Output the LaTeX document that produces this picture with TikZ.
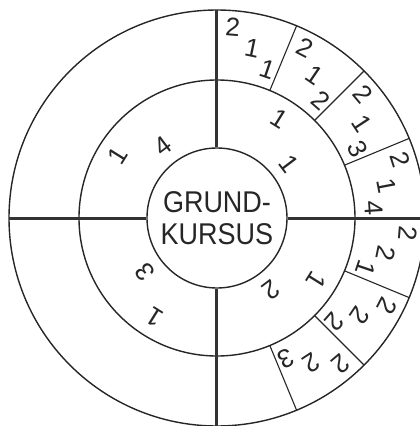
\documentclass[tikz,border=0pt]{standalone}
\usepackage{fontspec}
\setmainfont{Liberation Sans}
\usetikzlibrary{positioning}
\tikzset{
	ring/.style={
			draw=black!85,
			line width=1.4pt
		},
	kreuz/.style={
			draw=black!80,
			line width=3pt
		},
	teiler/.style={
			draw=black!85,
			line width=1.1pt
		},
	ziffer/.style={
			font=\fontsize{26}{26}\selectfont,
			text=black!85,
			inner sep=0pt
		},
	kern/.style={
			circle,
			ring,
			minimum size=140pt,
			inner sep=0pt,
			align=center,
			text=black!85,
			font=\fontsize{30}{32}\selectfont
		}
}

\begin{document}
\begin{tikzpicture}[x=1pt, y=1pt]
				\useasboundingbox (-217,-208) rectangle (203,218);
				\clip (-217,-208) rectangle (203,218);

				\node[kern] (grund) at (0,0) {\scalebox{0.9}[1]{GRUND-}\\\scalebox{0.9}[1]{KURSUS}};
				\draw[ring] (grund.center) circle (138);
				\draw[ring] (grund.center) circle (208);

				% kreuz
				\foreach \w in {0,90,180,270}
					\draw[kreuz] (grund.\w) -- (\w:208);

				% aussenring
				\foreach \w in {67.5,45,22.5,-22.5,-45,-67.5}
					\draw[teiler] (\w:138) -- (\w:208);

				\foreach \m/\a/\b/\c [count=\i] in {78.75/2/1/1, 56.25/2/1/2, 33.75/2/1/3, 11.25/2/1/4, -11.25/2/2/1, -33.75/2/2/2, -56.25/2/2/3}
				{
					\node[ziffer, rotate={\m+6.5-90}] (a\i) at ({\m+6.5}:192) {\a};
					\node[ziffer, rotate={\m-0.5-90}] (b\i) at ({\m-0.5}:173) {\b};
					\node[ziffer, rotate={\m-7.5-90}] (c\i) at ({\m-7.5}:157) {\c};
				}

				% mittelring
				\foreach \m/\b [count=\i] in {45/1, -45/2, -135/3, 135/4}
				{
					\node[ziffer, rotate={\m+13-90}] (e\i) at ({\m+13}:117) {1};
					\node[ziffer, rotate={\m-8-90}] (z\i) at ({\m-8}:90) {\b};
				}
			\end{tikzpicture}
\end{document}
